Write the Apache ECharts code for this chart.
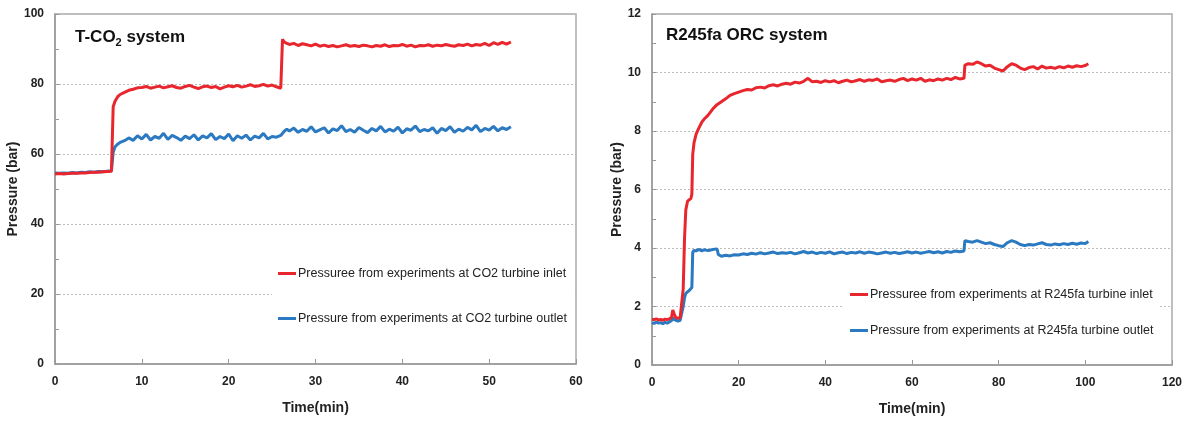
<!DOCTYPE html>
<html><head><meta charset="utf-8">
<script src="https://cdn.jsdelivr.net/npm/echarts@6/dist/echarts.min.js"></script>
<style>html,body{margin:0;padding:0;background:#fff;}#c{width:1186px;height:421px;}</style>
</head><body><div id="c"></div>
<script>
// ---- T-CO2 system ----
const co2Time = [0,0.5,1,1.5,2,2.5,3,3.5,4,4.5,5,5.5,6,6.5,
  6.7,6.9,7.2,7.5,
  8,8.5,9,9.5,10,10.5,11,11.5,12,12.5,13,13.5,14,14.5,15,15.5,16,16.5,17,17.5,18,18.5,19,19.5,20,20.5,21,21.5,22,22.5,23,23.5,24,24.5,25,25.5,26,
  26.2,26.4,26.7,
  27,27.5,28,28.5,29,29.5,30,30.5,31,31.5,32,32.5,33,33.5,34,34.5,35,35.5,36,36.5,37,37.5,38,38.5,39,39.5,40,40.5,41,41.5,42,42.5,43,43.5,44,44.5,45,45.5,46,46.5,47,47.5,48,48.5,49,49.5,50,50.5,51,51.5,52,52.5];
const co2Inlet = [54.3,54.4,54.3,54.4,54.5,54.5,54.6,54.6,54.7,54.8,54.8,54.9,55.0,55.1,
  73.5,75.0,76.3,77.0,
  77.6,78.2,78.5,78.9,79.0,79.3,78.8,79.1,79.4,78.9,79.2,79.5,79.0,78.8,79.3,79.6,79.1,78.7,79.2,79.4,79.0,79.3,78.6,79.1,79.5,79.2,79.6,79.1,79.4,79.8,79.3,79.5,79.9,79.4,79.7,79.2,78.8,
  92.8,92.0,91.6,
  91.3,91.6,91.0,91.5,91.2,90.9,91.4,90.8,91.1,90.7,91.0,90.6,90.9,91.2,90.8,91.0,90.7,91.1,90.9,90.6,91.0,90.8,91.2,90.7,91.0,90.9,91.3,90.8,91.1,90.6,91.0,90.9,91.2,90.8,91.1,90.9,91.3,91.0,90.8,91.2,91.0,91.4,90.9,91.3,91.1,91.6,91.0,91.8,91.3,91.9,91.4,92.0];
const co2Outlet = [54.6,54.5,54.6,54.5,54.7,54.6,54.8,54.7,54.9,54.8,55.0,54.9,55.1,55.2,
  60.5,62.0,62.8,63.3,
  63.8,64.6,63.9,65.2,64.3,65.6,64.0,65.0,64.5,65.9,64.2,65.3,64.7,63.9,65.1,64.4,65.5,64.0,65.2,64.6,65.8,64.1,65.0,64.4,65.7,63.8,65.2,64.5,65.4,64.0,65.1,64.6,65.9,64.3,65.0,64.8,65.3,
  65.8,66.5,67.1,
  66.6,67.4,66.2,67.0,66.5,67.8,66.3,66.9,67.5,66.0,67.2,66.7,68.1,66.4,67.0,66.2,67.6,66.8,66.1,67.3,66.6,67.9,66.3,67.1,66.5,67.7,66.0,67.2,66.8,68.0,66.4,67.0,66.6,67.5,65.9,67.3,66.7,67.8,66.2,67.1,66.5,67.6,66.9,68.2,66.4,67.3,66.8,67.9,66.6,67.5,67.0,67.8];

// ---- R245fa ORC system ----
const orcTime = [0,0.5,1,1.5,2,2.5,3,3.5,4,4.5,4.8,5.1,5.5,6,6.5,6.9,7.2,7.5,7.8,8.2,8.6,9.0,9.2,9.4,9.7,10.2,10.8,11.5,12,13,14,15,15.3,
  16,17,18,19,20,21,22,23,24,25,26,27,28,29,30,31,32,33,34,35,36,37,38,39,40,41,42,43,44,45,46,47,48,49,50,51,52,53,54,55,56,57,58,59,60,61,62,63,64,65,66,67,68,69,70,71,72,
  72.2,73,74,75,76,77,78,79,80,81,82,83,84,85,86,87,88,89,90,91,92,93,94,95,96,97,98,99,100,100.7];
const orcInlet = [1.57,1.55,1.58,1.54,1.56,1.53,1.57,1.55,1.58,1.62,1.88,1.75,1.62,1.6,1.62,1.65,2.6,4.3,5.3,5.6,5.65,5.7,5.85,7.2,7.6,7.9,8.1,8.3,8.4,8.55,8.75,8.9,8.93,
  9.0,9.1,9.22,9.28,9.33,9.38,9.42,9.4,9.48,9.5,9.47,9.55,9.58,9.54,9.6,9.63,9.6,9.67,9.64,9.7,9.8,9.68,9.7,9.66,9.72,9.68,9.72,9.65,9.7,9.74,9.68,9.72,9.76,9.7,9.75,9.73,9.78,9.68,9.72,9.74,9.7,9.76,9.8,9.72,9.78,9.74,9.8,9.7,9.75,9.72,9.78,9.74,9.8,9.76,9.83,9.78,9.8,
  10.25,10.3,10.28,10.36,10.3,10.22,10.25,10.15,10.1,10.05,10.2,10.3,10.25,10.15,10.1,10.17,10.2,10.12,10.22,10.15,10.18,10.14,10.2,10.16,10.22,10.18,10.23,10.2,10.24,10.3];
const orcOutlet = [1.45,1.42,1.47,1.43,1.45,1.41,1.46,1.43,1.47,1.52,1.62,1.55,1.52,1.5,1.53,1.55,2.0,2.3,2.45,2.5,2.55,2.58,2.65,3.85,3.92,3.9,3.95,3.9,3.94,3.91,3.95,3.97,3.78,
  3.72,3.75,3.73,3.77,3.76,3.8,3.78,3.82,3.79,3.84,3.8,3.83,3.86,3.81,3.84,3.82,3.85,3.8,3.84,3.88,3.83,3.86,3.81,3.85,3.82,3.87,3.8,3.84,3.86,3.81,3.85,3.83,3.87,3.82,3.86,3.84,3.8,3.83,3.86,3.82,3.85,3.81,3.84,3.87,3.83,3.86,3.82,3.85,3.88,3.84,3.87,3.83,3.88,3.85,3.9,3.87,3.9,
  4.25,4.22,4.2,4.25,4.2,4.15,4.18,4.12,4.08,4.05,4.18,4.25,4.2,4.12,4.08,4.12,4.1,4.14,4.18,4.12,4.1,4.14,4.11,4.15,4.12,4.16,4.13,4.17,4.15,4.22];

const xTicks1 = [0,10,20,30,40,50,60];
const yTicks1 = [0,20,40,60,80,100];
const xTicks2 = [0,20,40,60,80,100,120];
const yTicks2 = [0,2,4,6,8,10,12];

const names = [
  'Pressuree from experiments at CO2 turbine inlet',
  'Pressure from experiments at CO2 turbine outlet',
  'Pressuree from experiments at R245fa turbine inlet',
  'Pressure from experiments at R245fa turbine outlet'
];

const RED = '#e8262d', BLUE = '#2b79c0';
const zip = (t, v) => t.map((x, i) => [x, v[i]]);
const FONT = '"Liberation Sans", Arial, sans-serif';

function xAx(idx, ticks) {
  return {
    type: 'value', gridIndex: idx, min: ticks[0], max: ticks[ticks.length - 1],
    interval: ticks[1] - ticks[0],
    name: 'Time(min)', nameLocation: 'middle', nameGap: 37,
    nameTextStyle: { fontFamily: FONT, fontWeight: 'bold', fontSize: 14, color: '#222' },
    axisLine: { lineStyle: { color: '#999', width: 1.5 } },
    axisTick: { inside: true, length: 5, lineStyle: { color: '#999' } },
    axisLabel: { margin: 12, fontFamily: FONT, fontWeight: 'bold', fontSize: 12, color: '#222' },
    splitLine: { show: false }
  };
}
function yAx(idx, ticks, gap) {
  return {
    type: 'value', gridIndex: idx, min: ticks[0], max: ticks[ticks.length - 1],
    interval: ticks[1] - ticks[0],
    name: 'Pressure (bar)', nameLocation: 'middle', nameGap: gap,
    nameTextStyle: { fontFamily: FONT, fontWeight: 'bold', fontSize: 14, color: '#222' },
    axisLine: { lineStyle: { color: '#999', width: 1.5 } },
    axisTick: { inside: true, length: 4, lineStyle: { color: '#999' } },
    minorTick: { show: true, splitNumber: 2, length: 4, lineStyle: { color: '#999' } },
    axisLabel: { margin: 11, fontFamily: FONT, fontWeight: 'bold', fontSize: 12, color: '#222' },
    splitLine: { show: true, lineStyle: { color: '#bbb', type: [2, 2], width: 1 } }
  };
}
function ser(name, xi, t, v, color, w) {
  return {
    name, type: 'line', xAxisIndex: xi, yAxisIndex: xi, data: zip(t, v),
    showSymbol: false, symbol: 'none', animation: false,
    lineStyle: { color, width: w }, itemStyle: { color }
  };
}

const chart = echarts.init(document.getElementById('c'), null, { renderer: 'canvas' });
chart.setOption({
  animation: false,
  backgroundColor: '#fff',
  title: [
    { text: '{a|T-CO}{s|2}{a| system}', left: 70, top: 22,
      textStyle: { rich: {
        a: { fontFamily: FONT, fontWeight: 'bold', fontSize: 17, color: '#111' },
        s: { fontFamily: FONT, fontWeight: 'bold', fontSize: 11, color: '#111', padding: [10, 0, 0, 0] } } } },
    { text: 'R245fa ORC system', left: 661, top: 22,
      textStyle: { fontFamily: FONT, fontWeight: 'bold', fontSize: 17, color: '#111' } }
  ],
  grid: [
    { left: 55, top: 14, width: 521, height: 350, show: true, borderColor: '#aaa', borderWidth: 1.5, backgroundColor: 'transparent' },
    { left: 652, top: 14, width: 520, height: 352, show: true, borderColor: '#aaa', borderWidth: 1.5, backgroundColor: 'transparent' }
  ],
  xAxis: [xAx(0, xTicks1), xAx(1, xTicks2)],
  yAxis: [yAx(0, yTicks1, 21), yAx(1, yTicks2, 28)],
  legend: [
    { data: [names[0], names[1]], orient: 'vertical', left: 272, top: 261, itemGap: 32,
      icon: 'rect', itemWidth: 18, itemHeight: 3, backgroundColor: '#fff', padding: [6, 6],
      textStyle: { fontFamily: FONT, fontSize: 12.5, color: '#222', padding: [0, 0, 0, -3] } },
    { data: [names[2], names[3]], orient: 'vertical', left: 844, top: 282, itemGap: 23,
      icon: 'rect', itemWidth: 18, itemHeight: 3, backgroundColor: '#fff', padding: [6, 6],
      textStyle: { fontFamily: FONT, fontSize: 12.5, color: '#222', padding: [0, 0, 0, -3] } }
  ],
  series: [
    ser(names[1], 0, co2Time, co2Outlet, BLUE, 3),
    ser(names[0], 0, co2Time, co2Inlet, RED, 3),
    ser(names[3], 1, orcTime, orcOutlet, BLUE, 3),
    ser(names[2], 1, orcTime, orcInlet, RED, 3)
  ]
});
</script>
</body></html>
